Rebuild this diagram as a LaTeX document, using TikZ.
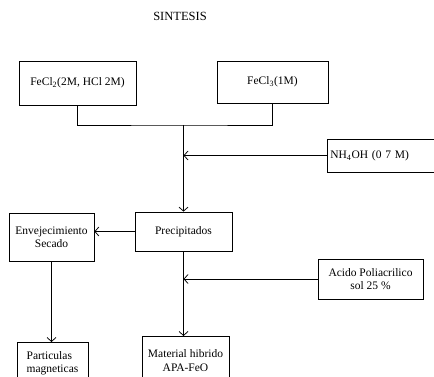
\documentclass[tikz,border=0pt]{standalone}
\usepackage{fontspec}
\setmainfont{Liberation Serif}
\usetikzlibrary{arrows.meta}
\begin{document}
\begin{tikzpicture}[x=1pt,y=-1pt,
  box/.style={draw,line width=0.75pt,inner sep=2pt,font=\fontsize{11.5}{13.5}\selectfont,align=center},
  arr/.style={line width=0.75pt,-{Straight Barb[length=4pt,width=9pt,line width=0.75pt]}},
  con/.style={line width=0.75pt}]
\useasboundingbox (0,0) rectangle (434,377);
\node[font=\fontsize{12.5}{14}\selectfont] (title) at (180,16) {SINTESIS};
\node[box,minimum width=117pt,minimum height=44pt] (b1) at (77.5,83) {FeCl\textsubscript{2}(2M, HCl 2M)};
\node[box,minimum width=111pt,minimum height=42pt] (b2) at (272.5,82) {FeCl\textsubscript{3}(1M)};
\node[box,anchor=west,text width=104pt,align=left,inner sep=3pt,minimum height=33pt] (nh) at (327,155.5) {NH\textsubscript{4}OH (0 7 M)};
\node[box,minimum width=97pt,minimum height=39pt] (pr) at (183.5,231.5) {Precipitados};
\node[box,minimum width=85pt,minimum height=48pt] (env) at (51.5,237) {Envejecimiento\\Secado};
\node[box,minimum width=105pt,minimum height=40pt] (ac) at (370.5,279) {Acido Poliacrilico\\sol 25 \%};
\node[box,anchor=north,minimum width=71pt,minimum height=42pt,align=left] (pa) at (52.5,342) {Particulas\\magneticas};
\node[box,anchor=north,minimum width=87pt,minimum height=48pt] (ma) at (185.5,336) {Material hibrido\\APA-FeO};
\coordinate (j) at (183.5,125);
\draw[con] (b1.south) |- (j) -| (b2.south);
\draw[arr] (j) -- (pr.north);
\draw[arr] (nh.west) -- (nh.west -| pr.north);
\draw[arr] (ac.west) -- (ac.west -| pr.south);
\draw[arr] (pr.west) -- (pr.west -| env.east);
\draw[arr] (env.south) -- (env.south |- pa.north);
\draw[arr] (pr.south) -- (pr.south |- ma.north);
\end{tikzpicture}
\end{document}
